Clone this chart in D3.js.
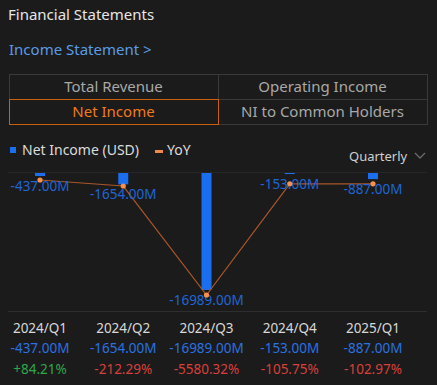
<!DOCTYPE html>
<html>
<head>
<meta charset="utf-8">
<script src="https://cdn.jsdelivr.net/npm/d3@7"></script>
<style>
  body { margin:0; background:#1b1b1b; }
  svg { display:block; font-family:"Noto Sans", "Open Sans", sans-serif; }
</style>
</head>
<body>
<div id="chart"></div>
<script>
// data
var quarters = ["2024/Q1", "2024/Q2", "2024/Q3", "2024/Q4", "2025/Q1"];
var netIncome = [-437, -1654, -16989, -153, -887];
var yoy = [84.21, -212.29, -5580.32, -105.75, -102.97];
var tabs = ["Total Revenue", "Operating Income", "Net Income", "NI to Common Holders"];

var width = 437, height = 385;

// plain hyphen instead of d3's unicode minus
var fmt = function(v){ return v.toFixed(2); };

var svg = d3.select("#chart").append("svg")
    .attr("width", width)
    .attr("height", height);

svg.append("rect").attr("width", width).attr("height", height).attr("fill", "#1b1b1b");

// header
svg.append("text").attr("x", 8).attr("y", 20)
    .attr("fill", "#e6e6e6").attr("font-size", 15).text("Financial Statements");
svg.append("text").attr("x", 9).attr("y", 55)
    .attr("fill", "#5a9be6").attr("font-size", 15).text("Income Statement >");

// tab table
var tabW = 209, tabH = 25;
var tabG = svg.append("g").attr("transform", "translate(9,74)");
tabs.forEach(function(t, i){
    var col = i % 2, row = Math.floor(i / 2);
    var active = t == "Net Income";
    tabG.append("rect")
        .attr("x", col * tabW + 0.5).attr("y", row * tabH + 0.5)
        .attr("width", tabW).attr("height", tabH)
        .attr("fill", "none")
        .attr("stroke", active ? "#c8600f" : "#3a3a3a");
    tabG.append("text")
        .attr("x", col * tabW + tabW / 2).attr("y", row * tabH + 18)
        .attr("text-anchor", "middle")
        .attr("font-size", 15)
        .attr("fill", active ? "#f07a1c" : "#a8a8a8")
        .text(t);
});
// redraw active border on top
tabG.append("rect").attr("x", 0.5).attr("y", tabH + 0.5).attr("width", tabW).attr("height", tabH)
    .attr("fill", "none").attr("stroke", "#c8600f");

// legend
svg.append("rect").attr("x", 10).attr("y", 147).attr("width", 6).attr("height", 6).attr("fill", "#1a6ef0");
svg.append("text").attr("x", 22).attr("y", 155).attr("fill", "#dcdcdc").attr("font-size", 14).text("Net Income (USD)");
svg.append("rect").attr("x", 155).attr("y", 150).attr("width", 8).attr("height", 3).attr("fill", "#f08a4b");
svg.append("text").attr("x", 167).attr("y", 155).attr("fill", "#dcdcdc").attr("font-size", 14).text("YoY");
svg.append("text").attr("x", 349).attr("y", 161).attr("fill", "#cfcfcf").attr("font-size", 13).text("Quarterly");
svg.append("path").attr("d", "M415,153 L420,158 L425,153").attr("fill", "none")
    .attr("stroke", "#6a6a6a").attr("stroke-width", 1.3);

// scales
var x = d3.scalePoint().domain(quarters).range([40, 373]);
var yBar = d3.scaleLinear().domain([d3.min(netIncome), 0]).range([290, 173]);
var yLine = d3.scaleLinear().domain(d3.extent(yoy)).range([295, 180]);

// zero line
svg.append("line").attr("x1", 8).attr("x2", 427).attr("y1", 172.5).attr("y2", 172.5)
    .attr("stroke", "#262626");

// bars
svg.append("g").selectAll("rect")
    .data(netIncome).enter().append("rect")
    .attr("x", function(d, i){ return x(quarters[i]) - 5; })
    .attr("y", yBar(0))
    .attr("width", 10)
    .attr("height", function(d){ return Math.max(1, yBar(d) - yBar(0)); })
    .attr("fill", "#1a6ef0");

// yoy line
var line = d3.line()
    .x(function(d, i){ return x(quarters[i]); })
    .y(function(d){ return yLine(d); });
svg.append("path").datum(yoy)
    .attr("d", line)
    .attr("fill", "none")
    .attr("stroke", "#a8562a")
    .attr("stroke-width", 1.2);

// bar labels
svg.append("g").selectAll("text")
    .data(netIncome).enter().append("text")
    .attr("x", function(d, i){ return x(quarters[i]); })
    .attr("y", function(d){ return Math.max(yBar(d), 174) + 15; })
    .attr("text-anchor", "middle")
    .attr("font-size", 13.5)
    .attr("fill", "#1f66d6")
    .text(function(d){ return fmt(d) + "M"; });

svg.append("g").selectAll("circle")
    .data(yoy).enter().append("circle")
    .attr("cx", function(d, i){ return x(quarters[i]); })
    .attr("cy", function(d){ return yLine(d); })
    .attr("r", 2.6)
    .attr("fill", "#f5914f");

// separator
svg.append("line").attr("x1", 8).attr("x2", 427).attr("y1", 311.5).attr("y2", 311.5)
    .attr("stroke", "#2e2e2e");

// bottom table
var tbl = svg.append("g");
quarters.forEach(function(q, i){
    var cx = x(q);
    tbl.append("text").attr("x", cx).attr("y", 333).attr("text-anchor", "middle")
        .attr("font-size", 13.5).attr("fill", "#d8d8d8").text(q);
    tbl.append("text").attr("x", cx).attr("y", 353).attr("text-anchor", "middle")
        .attr("font-size", 13.5).attr("fill", "#2a72e0")
        .text(fmt(netIncome[i]) + "M");
    tbl.append("text").attr("x", cx).attr("y", 374).attr("text-anchor", "middle")
        .attr("font-size", 13.5).attr("fill", yoy[i] >= 0 ? "#2ea84a" : "#d9403a")
        .text((yoy[i] >= 0 ? "+" : "") + fmt(yoy[i]) + "%");
});
</script>
</body>
</html>
